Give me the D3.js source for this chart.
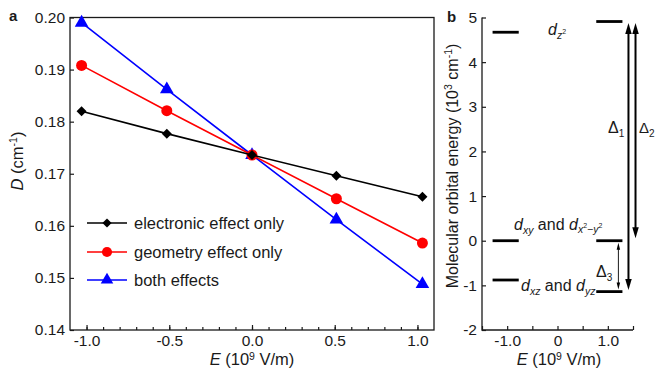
<!DOCTYPE html>
<html>
<head>
<meta charset="utf-8">
<script src="https://cdn.jsdelivr.net/npm/d3@7"></script>
<style>
  body { margin: 0; background: #fff; }
  svg { display: block; }
  text { font-family: Arial, "Liberation Sans", sans-serif; fill: #1a1a1a; }
</style>
</head>
<body>
<svg id="chart" width="655" height="368"></svg>
<script>
// panel a data
var fieldE = [-1.03, -0.515, 0, 0.51, 1.03];
var electronicOnly = [0.1820, 0.1777, 0.1736, 0.1696, 0.1656];
var geometryOnly = [0.1908, 0.1821, 0.1736, 0.1652, 0.1567];
var bothEffects = [0.1990, 0.1862, 0.1736, 0.1612, 0.1488];
var seriesNames = ["electronic effect only", "geometry effect only", "both effects"];
var yTicksA = [0.14, 0.15, 0.16, 0.17, 0.18, 0.19, 0.20];
var xTicksA = [-1.0, -0.5, 0.0, 0.5, 1.0];

// panel b data (energies in 10^3 cm^-1)
var levelE = [-1.03, 1.03];
var dz2 = [4.67, 4.91];
var dxy = [0, 0];
var dxz = [-0.88, -1.14];
var yTicksB = [-2, -1, 0, 1, 2, 3, 4, 5];
var xTicksB = [-1.0, 0, 1.0];

var svg = d3.select("#chart");
var INK = "#1a1a1a";

// ---------- panel a ----------
var ax = d3.scaleLinear().domain([-1.1, 1.1]).range([70, 434]);
var ay = d3.scaleLinear().domain([0.14, 0.20]).range([330, 17.5]);

var gA = svg.append("g");

// minor x ticks
gA.append("g").attr("transform", "translate(0,330)")
    .call(d3.axisBottom(ax).tickValues(d3.range(-10, 11).map(function (i) { return i / 10; }))
        .tickSize(-3).tickFormat(""))
    .call(function (g) { g.select(".domain").remove(); });

gA.append("g").attr("transform", "translate(0,330)")
    .call(d3.axisBottom(ax).tickValues(xTicksA).tickSize(-5).tickPadding(5)
        .tickFormat(function (d) { return d3.format(".1f")(d).replace("−", "-"); }))
    .call(function (g) { g.select(".domain").remove(); });

gA.append("g").attr("transform", "translate(70,0)")
    .call(d3.axisLeft(ay).tickValues(yTicksA).tickSize(-4).tickPadding(5).tickFormat(d3.format(".2f")))
    .call(function (g) { g.select(".domain").remove(); });

gA.selectAll(".tick line").attr("stroke", INK).attr("stroke-width", 1.2);
gA.selectAll(".tick text").attr("font-size", 15.5).attr("fill", INK)
    .attr("font-family", "Arial, 'Liberation Sans', sans-serif");

gA.append("rect").attr("x", 70).attr("y", 17.5).attr("width", 364).attr("height", 312.5)
    .attr("fill", "none").attr("stroke", INK).attr("stroke-width", 1.3);

var colors = ["#000000", "#ff0000", "#0000ff"];
var symbols = [d3.symbolSquare, d3.symbolCircle, d3.symbolTriangle];
var symSizes = [50, 95, 80];
var symRot = [45, 0, 0];
var allSeries = [electronicOnly, geometryOnly, bothEffects];

var line = d3.line().x(function (d, i) { return ax(fieldE[i]); }).y(function (d) { return ay(d); });

// draw blue first, black on top
[2, 1, 0].forEach(function (s) {
    gA.append("path").datum(allSeries[s]).attr("d", line)
        .attr("fill", "none").attr("stroke", colors[s]).attr("stroke-width", 1.6);
    gA.selectAll(".m" + s).data(allSeries[s]).enter().append("path")
        .attr("transform", function (d, i) {
            return "translate(" + ax(fieldE[i]) + "," + ay(d) + ") rotate(" + symRot[s] + ")";
        })
        .attr("d", d3.symbol().type(symbols[s]).size(symSizes[s]))
        .attr("fill", colors[s]);
});

// legend
var legendY = [223, 252, 280];
seriesNames.forEach(function (name, s) {
    var g = gA.append("g").attr("transform", "translate(0," + legendY[s] + ")");
    g.append("line").attr("x1", 87).attr("x2", 127).attr("stroke", colors[s]).attr("stroke-width", 1.6);
    g.append("path").attr("transform", "translate(107,0) rotate(" + symRot[s] + ")")
        .attr("d", d3.symbol().type(symbols[s]).size(symSizes[s] * 0.85)).attr("fill", colors[s]);
    g.append("text").attr("x", 134).attr("y", 6).attr("font-size", 16.5).text(name);
});

// axis titles a
var xtA = svg.append("text").attr("x", 252).attr("y", 365).attr("text-anchor", "middle").attr("font-size", 16.5);
xtA.append("tspan").attr("font-style", "italic").text("E");
xtA.append("tspan").text(" (10");
xtA.append("tspan").attr("font-size", 10.5).attr("dy", -5.5).text("9");
xtA.append("tspan").attr("dy", 5.5).text(" V/m)");

var ytA = svg.append("text").attr("transform", "translate(23,161) rotate(-90)")
    .attr("text-anchor", "middle").attr("font-size", 16.5);
ytA.append("tspan").attr("font-style", "italic").text("D");
ytA.append("tspan").text(" (cm");
ytA.append("tspan").attr("font-size", 10.5).attr("dy", -6).text("-1");
ytA.append("tspan").attr("dy", 6).text(")");

svg.append("text").attr("x", 9).attr("y", 21).attr("font-size", 15).attr("font-weight", "bold").text("a");
svg.append("text").attr("x", 447).attr("y", 22).attr("font-size", 15).attr("font-weight", "bold").text("b");

// ---------- panel b ----------
var bx = d3.scaleLinear().domain([-1.5, 1.5]).range([482, 633]);
var by = d3.scaleLinear().domain([-2, 5]).range([330, 17.5]);

var gB = svg.append("g");
gB.append("g").attr("transform", "translate(0,330)")
    .call(d3.axisBottom(bx).tickValues([-1.5, -1, -0.5, 0, 0.5, 1, 1.5]).tickSize(-4).tickFormat(""))
    .call(function (g) { g.select(".domain").remove(); });
gB.append("g").attr("transform", "translate(0,330)")
    .call(d3.axisBottom(bx).tickValues(xTicksB).tickSize(0).tickPadding(5)
        .tickFormat(function (d) { return d === 0 ? "0" : d3.format(".1f")(d).replace("−", "-"); }))
    .call(function (g) { g.select(".domain").remove(); });
gB.append("g").attr("transform", "translate(482,0)")
    .call(d3.axisLeft(by).tickValues(yTicksB).tickSize(-4).tickPadding(5)
        .tickFormat(function (d) { return String(d); }))
    .call(function (g) { g.select(".domain").remove(); });

gB.selectAll(".tick line").attr("stroke", INK).attr("stroke-width", 1.2);
gB.selectAll(".tick text").attr("font-size", 15.5).attr("fill", INK)
    .attr("font-family", "Arial, 'Liberation Sans', sans-serif");

gB.append("path").attr("d", "M482,17.5V330H633").attr("fill", "none").attr("stroke", INK).attr("stroke-width", 1.3);

// energy levels
[dz2, dxy, dxz].forEach(function (lev) {
    levelE.forEach(function (e, i) {
        gB.append("line").attr("x1", bx(e - 0.26)).attr("x2", bx(e + 0.26))
            .attr("y1", by(lev[i])).attr("y2", by(lev[i]))
            .attr("stroke", "#000").attr("stroke-width", 2.8);
    });
});

// arrows
function arrowHead(x, yTip, dir, w, len) {
    // dir = -1 points up, 1 points down
    return "M" + x + "," + yTip + "L" + (x - w / 2) + "," + (yTip - dir * len) +
        "L" + (x + w / 2) + "," + (yTip - dir * len) + "Z";
}
function doubleArrow(x, y1, y2, lw, w, len) {
    var top = Math.min(y1, y2), bot = Math.max(y1, y2);
    gB.append("line").attr("x1", x).attr("x2", x)
        .attr("y1", top + len - 1).attr("y2", bot - len + 1)
        .attr("stroke", "#000").attr("stroke-width", lw);
    gB.append("path").attr("d", arrowHead(x, top, -1, w, len)).attr("fill", "#000");
    gB.append("path").attr("d", arrowHead(x, bot, 1, w, len)).attr("fill", "#000");
}
doubleArrow(bx(1.41), by(dz2[1]) + 1.5, by(dxz[1]) - 1.5, 2, 6.5, 11);
doubleArrow(bx(1.55), by(dz2[1]) + 1.5, by(dxy[1]) - 2.5, 2, 6.5, 11);
doubleArrow(bx(1.21), by(dxy[1]) + 2, by(dxz[1]) - 2, 0.9, 3.5, 7);

function delta(x, y, sub, size) {
    var t = gB.append("text").attr("x", x).attr("y", y).attr("font-size", size);
    t.append("tspan").text("\u0394");
    t.append("tspan").attr("font-size", 10).attr("dy", 4).text(sub);
}
delta(608, 133, "1", 16);
delta(639, 133, "2", 15);
delta(596, 277, "3", 16);

// orbital labels
var t1 = gB.append("text").attr("x", 548).attr("y", 35).attr("font-size", 16).attr("font-style", "italic");
t1.append("tspan").text("d");
t1.append("tspan").attr("font-size", 10.5).attr("dy", 4).text("z");
t1.append("tspan").attr("font-size", 7).attr("dy", -5).attr("font-style", "normal").text("2");

var t2 = gB.append("text").attr("x", 514).attr("y", 230).attr("font-size", 16);
t2.append("tspan").attr("font-style", "italic").text("d");
t2.append("tspan").attr("font-size", 10.5).attr("dy", 4).attr("font-style", "italic").text("xy");
t2.append("tspan").attr("dy", -4).text(" and ");
t2.append("tspan").attr("font-style", "italic").text("d");
t2.append("tspan").attr("font-size", 10.5).attr("dy", 3).attr("font-style", "italic").text("x");
t2.append("tspan").attr("font-size", 7).attr("dy", -5).text("2");
t2.append("tspan").attr("font-size", 10.5).attr("dy", 5).text("\u2212");
t2.append("tspan").attr("font-size", 10.5).attr("font-style", "italic").text("y");
t2.append("tspan").attr("font-size", 7).attr("dy", -5).text("2");

var t3 = gB.append("text").attr("x", 521).attr("y", 291).attr("font-size", 16);
t3.append("tspan").attr("font-style", "italic").text("d");
t3.append("tspan").attr("font-size", 10.5).attr("dy", 4).attr("font-style", "italic").text("xz");
t3.append("tspan").attr("dy", -4).text(" and ");
t3.append("tspan").attr("font-style", "italic").text("d");
t3.append("tspan").attr("font-size", 10.5).attr("dy", 4).attr("font-style", "italic").text("yz");

// axis titles b
var xtB = svg.append("text").attr("x", 559).attr("y", 365).attr("text-anchor", "middle").attr("font-size", 16.5);
xtB.append("tspan").attr("font-style", "italic").text("E");
xtB.append("tspan").text(" (10");
xtB.append("tspan").attr("font-size", 10.5).attr("dy", -5.5).text("9");
xtB.append("tspan").attr("dy", 5.5).text(" V/m)");

var ytB = svg.append("text").attr("transform", "translate(458,166) rotate(-90)")
    .attr("text-anchor", "middle").attr("font-size", 16);
ytB.append("tspan").text("Molecular orbital energy (10");
ytB.append("tspan").attr("font-size", 10.5).attr("dy", -6).text("3");
ytB.append("tspan").attr("dy", 6).text(" cm");
ytB.append("tspan").attr("font-size", 10.5).attr("dy", -6).text("-1");
ytB.append("tspan").attr("dy", 6).text(")");
</script>
</body>
</html>
